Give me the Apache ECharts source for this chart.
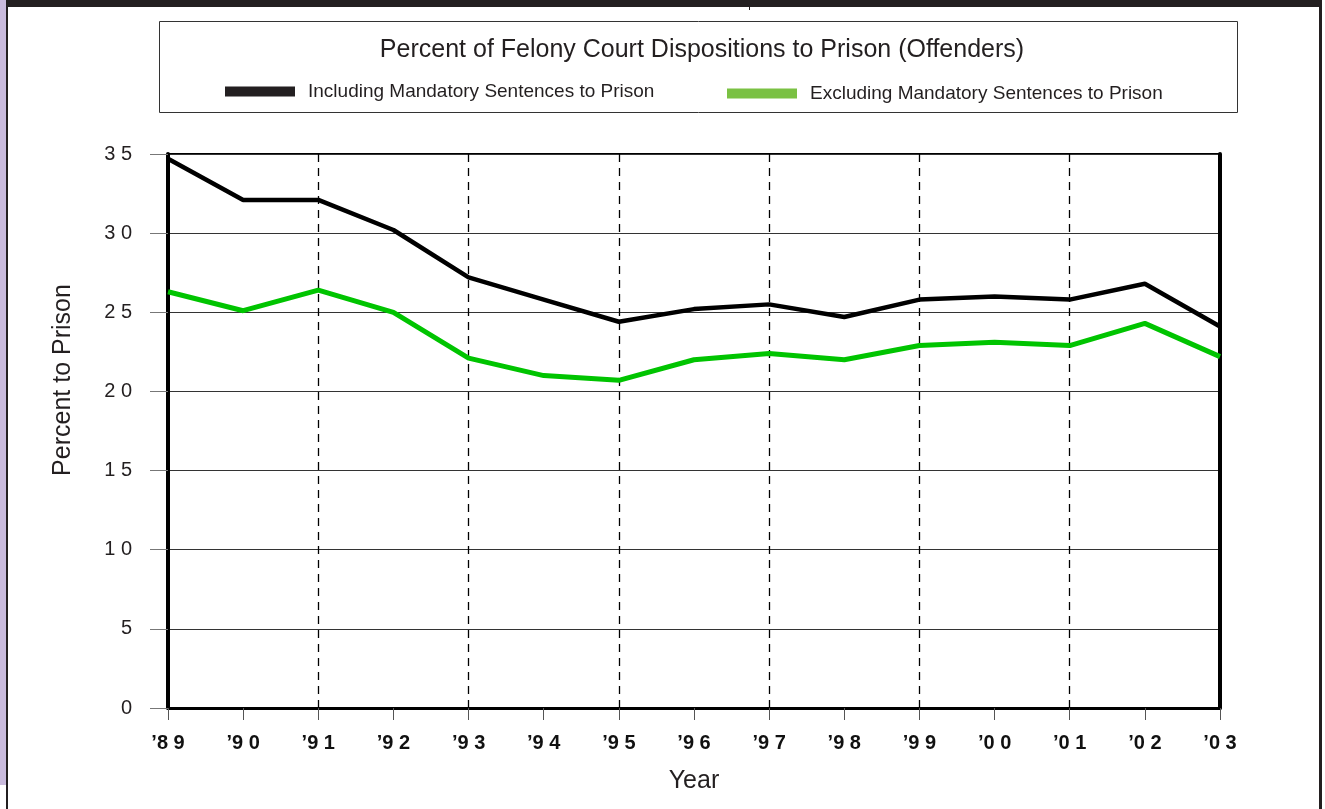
<!DOCTYPE html>
<html>
<head>
<meta charset="utf-8">
<script src="https://cdn.jsdelivr.net/npm/echarts@6/dist/echarts.min.js"></script>
<style>
  html, body { margin: 0; padding: 0; background: #fff; }
  #chart { width: 1325px; height: 809px; }
</style>
</head>
<body>
<div id="chart"></div>
<script>
// 数据
const years = ['89', '90', '91', '92', '93', '94', '95', '96', '97', '98', '99', '00', '01', '02', '03'];
const includingMandatory = [34.7, 32.1, 32.1, 30.2, 27.2, 25.8, 24.4, 25.2, 25.5, 24.7, 25.8, 26.0, 25.8, 26.8, 24.1];
const excludingMandatory = [26.3, 25.1, 26.4, 25.0, 22.1, 21.0, 20.7, 22.0, 22.4, 22.0, 22.9, 23.1, 22.9, 24.3, 22.2];
const yTicks = [0, 5, 10, 15, 20, 25, 30, 35];

const font = '"Liberation Sans", Arial, sans-serif';
const spaced = s => String(s).split('').join(' ');

const chart = echarts.init(document.getElementById('chart'));

const option = {
  backgroundColor: '#fff',
  animation: false,
  textStyle: { fontFamily: font },
  // 页面边框、图例框
  graphic: [
    { type: 'rect', shape: { x: 0, y: 0, width: 6, height: 785 }, style: { fill: '#c9badc' }, z: -1 },
    { type: 'rect', shape: { x: 6, y: 0, width: 2, height: 809 }, style: { fill: '#231f20' } },
    { type: 'rect', shape: { x: 6, y: 0, width: 1316, height: 7 }, style: { fill: '#231f20' } },
    { type: 'rect', shape: { x: 749, y: 0, width: 1, height: 10 }, style: { fill: '#231f20' } },
    { type: 'rect', shape: { x: 1319, y: 0, width: 3, height: 809 }, style: { fill: '#231f20' } },
    { type: 'rect', shape: { x: 159.5, y: 21.5, width: 1078, height: 91 }, style: { fill: 'none', stroke: '#333', lineWidth: 1 } }
  ],
  title: {
    text: 'Percent of Felony Court Dispositions to Prison (Offenders)',
    left: 697,
    textAlign: 'center',
    top: 33,
    textStyle: { fontFamily: font, fontSize: 25, fontWeight: 'normal', color: '#231f20' }
  },
  legend: [
    {
      data: ['Including Mandatory Sentences to Prison'],
      left: 220, top: 77,
      icon: 'rect', itemWidth: 70, itemHeight: 10,
      textStyle: { fontFamily: font, fontSize: 19, color: '#231f20', padding: [0, 0, 0, 8] }
    },
    {
      data: ['Excluding Mandatory Sentences to Prison'],
      left: 722, top: 79,
      icon: 'rect', itemWidth: 70, itemHeight: 10,
      itemStyle: { color: '#7ac143' },
      textStyle: { fontFamily: font, fontSize: 19, color: '#231f20', padding: [0, 0, 0, 8] }
    }
  ],
  grid: {
    left: 168, right: 105, top: 154, bottom: 101,
    show: true, borderColor: '#000', borderWidth: 2
  },
  xAxis: {
    type: 'category',
    data: years,
    boundaryGap: false,
    name: 'Year',
    nameLocation: 'middle',
    nameGap: 61,
    nameTextStyle: { fontFamily: font, fontSize: 25, color: '#231f20' },
    axisLine: { lineStyle: { color: '#000', width: 3 } },
    axisTick: { length: 12, lineStyle: { color: '#555', width: 1 } },
    axisLabel: {
      margin: 25,
      fontFamily: font, fontSize: 20, fontWeight: 'bold', color: '#111',
      formatter: v => '\u2019' + spaced(v)
    },
    splitLine: {
      show: true,
      interval: (i) => i > 0 && i < years.length - 1 && i % 2 === 0,
      lineStyle: { color: '#000', width: 1.3, type: [8, 6] }
    }
  },
  yAxis: [
    {
      type: 'value',
      min: yTicks[0], max: yTicks[yTicks.length - 1], interval: 5,
      name: 'Percent to Prison',
      nameLocation: 'middle',
      nameGap: 92,
      nameTextStyle: { fontFamily: font, fontSize: 25, color: '#231f20', padding: [0, 0, 0, 102] },
      axisLine: { show: true, lineStyle: { color: '#000', width: 4 } },
      axisTick: { show: true, length: 18, lineStyle: { color: '#777', width: 1 } },
      axisLabel: { margin: 36, fontFamily: font, fontSize: 20, color: '#231f20', formatter: v => spaced(v) },
      splitLine: { lineStyle: { color: '#333', width: 1.2 } }
    },
    {
      type: 'value',
      min: yTicks[0], max: yTicks[yTicks.length - 1], interval: 5,
      position: 'right',
      axisLine: { show: true, lineStyle: { color: '#000', width: 4 } },
      axisTick: { show: false },
      axisLabel: { show: false },
      splitLine: { show: false }
    }
  ],
  series: [
    {
      name: 'Including Mandatory Sentences to Prison',
      type: 'line',
      data: includingMandatory,
      symbol: 'none',
      itemStyle: { color: '#231f20' },
      lineStyle: { color: '#000', width: 4.5 },
      z: 3
    },
    {
      name: 'Excluding Mandatory Sentences to Prison',
      type: 'line',
      data: excludingMandatory,
      symbol: 'none',
      itemStyle: { color: '#7ac143' },
      lineStyle: { color: '#00c400', width: 5 },
      z: 3
    }
  ]
};

chart.setOption(option);
window.addEventListener('resize', () => chart.resize());
</script>
</body>
</html>
